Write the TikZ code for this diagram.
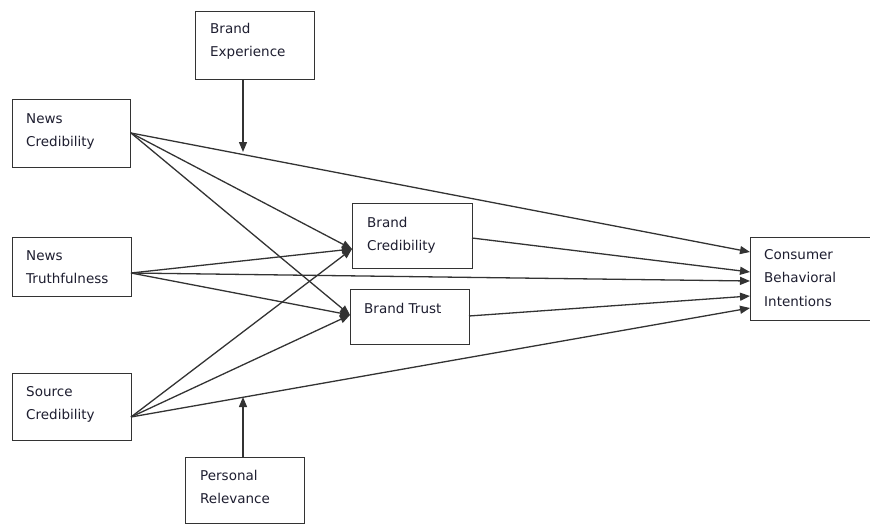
\documentclass[tikz,border=0pt]{standalone}
\usepackage{fontspec}
\setmainfont{DejaVu Sans}
\usetikzlibrary{arrows.meta}
\definecolor{ln}{HTML}{333333}
\definecolor{tx}{HTML}{1E1E30}
\begin{document}
\begin{tikzpicture}[x=1pt,y=-1pt,
  box/.style={draw=ln,line width=1.3pt,fill=white,anchor=north west,inner sep=0pt},
  lbl/.style={anchor=north west,inner sep=0pt,align=left,text=tx,font=\fontsize{13.5}{23.5}\selectfont},
  arr/.style={draw=ln,line width=1.3pt,-{Triangle[length=10pt,width=8pt]}}]
\useasboundingbox (0,0) rectangle (870,525);
% boxes
\node[box,minimum width=118pt,minimum height=68pt] (nc) at (12,99) {};
\node[box,minimum width=119pt,minimum height=59pt] (nt) at (12,237) {};
\node[box,minimum width=119pt,minimum height=67pt] (sc) at (12,373) {};
\node[box,minimum width=119pt,minimum height=68pt] (be) at (195,11) {};
\node[box,minimum width=119pt,minimum height=66pt] (pr) at (185,457) {};
\node[box,minimum width=120pt,minimum height=65pt] (bc) at (352,203) {};
\node[box,minimum width=119pt,minimum height=55pt] (bt) at (350,289) {};
\node[box,minimum width=125pt,minimum height=83pt] (cbi) at (750,237) {};
% labels
\node[lbl] (nctx) at (26,113) {News\\Credibility};
\node[lbl] (nttx) at (26,250) {News\\Truthfulness};
\node[lbl] (sctx) at (26,386) {Source\\Credibility};
\node[lbl] (betx) at (210,23) {Brand\\Experience};
\node[lbl] (prtx) at (200,470) {Personal\\Relevance};
\node[lbl] (bctx) at (367,217) {Brand\\Credibility};
\node[lbl] (bttx) at (364,303) {Brand Trust};
\node[lbl] (cbitx) at (764,249) {Consumer\\Behavioral\\Intentions};
% attachment points
\coordinate (ncO) at (131,133);
\coordinate (ntO) at (131,273);
\coordinate (scO) at (131,417);
\coordinate (bcI) at (352,249);
\coordinate (btI) at (350,315);
\coordinate (bcO) at (472,238);
\coordinate (btO) at (469,316);
\coordinate (c1) at (750,252);
\coordinate (c2) at (750,272);
\coordinate (c3) at (750,281);
\coordinate (c4) at (750,296);
\coordinate (c5) at (750,308);
\coordinate (beO) at (243,79);
\coordinate (beT) at (243,152);
\coordinate (prO) at (243,457);
\coordinate (prT) at (243,397);
% connectors
\draw[arr] (ncO) -- (c1);
\draw[arr] (ncO) -- (bcI);
\draw[arr] (ncO) -- (btI);
\draw[arr] (ntO) -- (bcI);
\draw[arr] (ntO) -- (c3);
\draw[arr] (ntO) -- (btI);
\draw[arr] (scO) -- (bcI);
\draw[arr] (scO) -- (btI);
\draw[arr] (scO) -- (c5);
\draw[arr] (bcO) -- (c2);
\draw[arr] (btO) -- (c4);
\draw[arr] (beO) -- (beT);
\draw[arr] (prO) -- (prT);
\end{tikzpicture}
\end{document}
